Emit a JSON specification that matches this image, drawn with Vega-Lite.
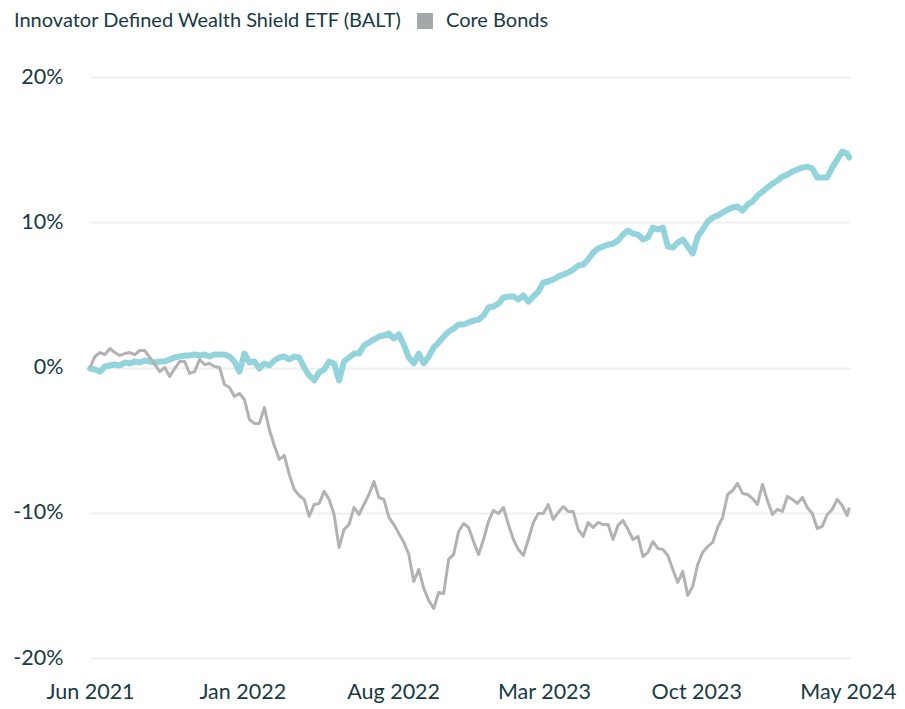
{
  "$schema": "https://vega.github.io/schema/vega-lite/v6.json",
  "width": 760,
  "height": 581,
  "autosize": {"type": "none"},
  "padding": {"left": 90, "top": 77, "right": 55, "bottom": 51},
  "background": "white",
  "config": {
    "view": {"stroke": null},
    "font": "Lato",
    "axis": {"labelFont": "Lato", "labelColor": "#173a44", "labelFontSize": 21.5, "domain": false, "ticks": false}
  },
  "data": {"values": [
    {"d":"2021-06-01","b":-0.07,"c":0},
    {"d":"2021-06-08","b":-0.14,"c":0.76},
    {"d":"2021-06-15","b":-0.28,"c":1.03},
    {"d":"2021-06-22","b":0.07,"c":0.89},
    {"d":"2021-06-29","b":0.14,"c":1.31},
    {"d":"2021-07-06","b":0.21,"c":1.03},
    {"d":"2021-07-13","b":0.14,"c":0.83},
    {"d":"2021-07-20","b":0.34,"c":0.96},
    {"d":"2021-07-27","b":0.28,"c":1.03},
    {"d":"2021-08-03","b":0.41,"c":0.89},
    {"d":"2021-08-10","b":0.34,"c":1.17},
    {"d":"2021-08-17","b":0.48,"c":1.17},
    {"d":"2021-08-24","b":0.41,"c":0.69},
    {"d":"2021-08-31","b":0.34,"c":0.21},
    {"d":"2021-09-07","b":0.41,"c":-0.28},
    {"d":"2021-09-14","b":0.41,"c":0},
    {"d":"2021-09-21","b":0.55,"c":-0.62},
    {"d":"2021-09-28","b":0.69,"c":-0.07},
    {"d":"2021-10-05","b":0.76,"c":0.41},
    {"d":"2021-10-12","b":0.83,"c":0.41},
    {"d":"2021-10-19","b":0.83,"c":-0.41},
    {"d":"2021-10-26","b":0.89,"c":-0.28},
    {"d":"2021-11-02","b":0.83,"c":0.55},
    {"d":"2021-11-09","b":0.89,"c":0.21},
    {"d":"2021-11-16","b":0.76,"c":0.28},
    {"d":"2021-11-23","b":0.89,"c":0.07},
    {"d":"2021-11-30","b":0.89,"c":0},
    {"d":"2021-12-07","b":0.89,"c":-1.17},
    {"d":"2021-12-14","b":0.76,"c":-1.38},
    {"d":"2021-12-21","b":0.41,"c":-2.0},
    {"d":"2021-12-28","b":-0.28,"c":-1.79},
    {"d":"2022-01-04","b":0.96,"c":-2.2},
    {"d":"2022-01-11","b":0.34,"c":-3.58},
    {"d":"2022-01-18","b":0.41,"c":-3.85},
    {"d":"2022-01-25","b":-0.07,"c":-3.85},
    {"d":"2022-02-01","b":0.28,"c":-2.75},
    {"d":"2022-02-08","b":0.14,"c":-4.27},
    {"d":"2022-02-15","b":0.48,"c":-5.37},
    {"d":"2022-02-22","b":0.69,"c":-6.33},
    {"d":"2022-03-01","b":0.76,"c":-6.06},
    {"d":"2022-03-08","b":0.55,"c":-7.36},
    {"d":"2022-03-15","b":0.76,"c":-8.4},
    {"d":"2022-03-22","b":0.69,"c":-8.81},
    {"d":"2022-03-29","b":0,"c":-9.08},
    {"d":"2022-04-05","b":-0.55,"c":-10.25},
    {"d":"2022-04-12","b":-0.89,"c":-9.43},
    {"d":"2022-04-19","b":-0.34,"c":-9.36},
    {"d":"2022-04-26","b":-0.14,"c":-8.53},
    {"d":"2022-05-03","b":0.41,"c":-9.08},
    {"d":"2022-05-10","b":0.28,"c":-10.12},
    {"d":"2022-05-17","b":-0.89,"c":-12.39},
    {"d":"2022-05-24","b":0.41,"c":-11.15},
    {"d":"2022-05-31","b":0.69,"c":-10.81},
    {"d":"2022-06-07","b":0.96,"c":-9.64},
    {"d":"2022-06-14","b":0.96,"c":-10.12},
    {"d":"2022-06-21","b":1.51,"c":-9.43},
    {"d":"2022-06-28","b":1.72,"c":-8.74},
    {"d":"2022-07-05","b":1.93,"c":-7.85},
    {"d":"2022-07-12","b":2.13,"c":-8.95},
    {"d":"2022-07-19","b":2.2,"c":-9.08},
    {"d":"2022-07-26","b":2.34,"c":-10.32},
    {"d":"2022-08-02","b":2.0,"c":-10.81},
    {"d":"2022-08-09","b":2.27,"c":-11.42},
    {"d":"2022-08-16","b":1.58,"c":-12.04},
    {"d":"2022-08-23","b":0.69,"c":-12.87},
    {"d":"2022-08-30","b":0.28,"c":-14.73},
    {"d":"2022-09-06","b":0.96,"c":-13.9},
    {"d":"2022-09-13","b":0.28,"c":-15.21},
    {"d":"2022-09-20","b":0.76,"c":-16.04},
    {"d":"2022-09-27","b":1.38,"c":-16.59},
    {"d":"2022-10-04","b":1.72,"c":-15.49},
    {"d":"2022-10-11","b":2.13,"c":-15.56},
    {"d":"2022-10-18","b":2.48,"c":-13.21},
    {"d":"2022-10-25","b":2.68,"c":-12.87},
    {"d":"2022-11-01","b":2.96,"c":-11.29},
    {"d":"2022-11-08","b":2.96,"c":-10.74},
    {"d":"2022-11-15","b":3.1,"c":-11.01},
    {"d":"2022-11-22","b":3.23,"c":-11.98},
    {"d":"2022-11-29","b":3.3,"c":-12.87},
    {"d":"2022-12-06","b":3.58,"c":-11.84},
    {"d":"2022-12-13","b":4.13,"c":-10.6},
    {"d":"2022-12-20","b":4.2,"c":-9.84},
    {"d":"2022-12-27","b":4.4,"c":-10.05},
    {"d":"2023-01-03","b":4.82,"c":-9.64},
    {"d":"2023-01-10","b":4.89,"c":-10.81},
    {"d":"2023-01-17","b":4.89,"c":-11.84},
    {"d":"2023-01-24","b":4.68,"c":-12.53},
    {"d":"2023-01-31","b":4.96,"c":-12.94},
    {"d":"2023-02-07","b":4.54,"c":-11.84},
    {"d":"2023-02-14","b":4.89,"c":-10.67},
    {"d":"2023-02-21","b":5.23,"c":-10.05},
    {"d":"2023-02-28","b":5.85,"c":-10.05},
    {"d":"2023-03-07","b":5.92,"c":-9.43},
    {"d":"2023-03-14","b":6.06,"c":-10.46},
    {"d":"2023-03-21","b":6.26,"c":-9.98},
    {"d":"2023-03-28","b":6.4,"c":-9.57},
    {"d":"2023-04-04","b":6.54,"c":-9.91},
    {"d":"2023-04-11","b":6.74,"c":-9.91},
    {"d":"2023-04-18","b":7.02,"c":-11.15},
    {"d":"2023-04-25","b":7.09,"c":-11.63},
    {"d":"2023-05-02","b":7.43,"c":-10.67},
    {"d":"2023-05-09","b":7.91,"c":-11.01},
    {"d":"2023-05-16","b":8.19,"c":-10.67},
    {"d":"2023-05-23","b":8.33,"c":-10.81},
    {"d":"2023-05-30","b":8.46,"c":-10.81},
    {"d":"2023-06-06","b":8.53,"c":-11.84},
    {"d":"2023-06-13","b":8.74,"c":-10.87},
    {"d":"2023-06-20","b":9.15,"c":-10.53},
    {"d":"2023-06-27","b":9.43,"c":-11.15},
    {"d":"2023-07-04","b":9.22,"c":-11.84},
    {"d":"2023-07-11","b":9.15,"c":-11.63},
    {"d":"2023-07-18","b":8.81,"c":-13.01},
    {"d":"2023-07-25","b":8.95,"c":-12.73},
    {"d":"2023-08-01","b":9.63,"c":-11.98},
    {"d":"2023-08-08","b":9.5,"c":-12.46},
    {"d":"2023-08-15","b":9.63,"c":-12.53},
    {"d":"2023-08-22","b":8.33,"c":-12.94},
    {"d":"2023-08-29","b":8.26,"c":-13.9},
    {"d":"2023-09-05","b":8.6,"c":-14.8},
    {"d":"2023-09-12","b":8.81,"c":-14.04},
    {"d":"2023-09-19","b":8.33,"c":-15.69},
    {"d":"2023-09-26","b":7.85,"c":-15.07},
    {"d":"2023-10-03","b":9.02,"c":-13.56},
    {"d":"2023-10-10","b":9.5,"c":-12.73},
    {"d":"2023-10-17","b":10.05,"c":-12.32},
    {"d":"2023-10-24","b":10.32,"c":-12.04},
    {"d":"2023-10-31","b":10.46,"c":-11.01},
    {"d":"2023-11-07","b":10.67,"c":-10.32},
    {"d":"2023-11-14","b":10.87,"c":-8.74},
    {"d":"2023-11-21","b":11.01,"c":-8.47},
    {"d":"2023-11-28","b":11.08,"c":-7.98},
    {"d":"2023-12-05","b":10.8,"c":-8.67},
    {"d":"2023-12-12","b":11.22,"c":-8.74},
    {"d":"2023-12-19","b":11.42,"c":-9.02},
    {"d":"2023-12-26","b":11.84,"c":-9.43},
    {"d":"2024-01-02","b":12.11,"c":-8.05},
    {"d":"2024-01-09","b":12.39,"c":-9.15},
    {"d":"2024-01-16","b":12.66,"c":-10.12},
    {"d":"2024-01-23","b":12.87,"c":-9.77},
    {"d":"2024-01-30","b":13.14,"c":-9.91},
    {"d":"2024-02-06","b":13.28,"c":-8.88},
    {"d":"2024-02-13","b":13.49,"c":-9.08},
    {"d":"2024-02-20","b":13.63,"c":-9.36},
    {"d":"2024-02-27","b":13.76,"c":-8.95},
    {"d":"2024-03-05","b":13.83,"c":-9.64},
    {"d":"2024-03-12","b":13.7,"c":-10.05},
    {"d":"2024-03-19","b":13.08,"c":-11.08},
    {"d":"2024-03-26","b":13.08,"c":-10.94},
    {"d":"2024-04-02","b":13.08,"c":-10.12},
    {"d":"2024-04-09","b":13.76,"c":-9.77},
    {"d":"2024-04-16","b":14.31,"c":-9.08},
    {"d":"2024-04-23","b":14.87,"c":-9.5},
    {"d":"2024-04-30","b":14.73,"c":-10.19},
    {"d":"2024-05-03","b":14.45,"c":-9.64}
  ]},
  "encoding": {
    "x": {
      "field": "d", "type": "temporal",
      "scale": {"type": "utc", "domain": ["2021-06-01", "2024-05-04"]},
      "axis": {
        "title": null, "grid": false, "format": "%b %Y",
        "values": [
          {"year": 2021, "month": 6, "date": 1, "utc": true},
          {"year": 2022, "month": 1, "date": 1, "utc": true},
          {"year": 2022, "month": 8, "date": 1, "utc": true},
          {"year": 2023, "month": 3, "date": 1, "utc": true},
          {"year": 2023, "month": 10, "date": 1, "utc": true},
          {"year": 2024, "month": 5, "date": 1, "utc": true}
        ],
        "labelBaseline": "top", "labelPadding": 23, "labelAlign": "center",
        "labelFlush": false, "labelOverlap": false, "labelBound": false
      }
    }
  },
  "layer": [
    {
      "mark": {"type": "line", "strokeWidth": 6, "strokeJoin": "round", "strokeCap": "round"},
      "encoding": {
        "y": {
          "field": "b", "type": "quantitative",
          "scale": {"domain": [-20, 20], "nice": false, "zero": false},
          "axis": {
            "title": null, "values": [-20, -10, 0, 10, 20],
            "labelExpr": "datum.value + '%'",
            "grid": true, "gridColor": "#efefef", "gridWidth": 2,
            "labelPadding": 27
          }
        },
        "color": {
          "datum": "Innovator Defined Wealth Shield ETF (BALT)",
          "type": "nominal",
          "scale": {
            "domain": ["Innovator Defined Wealth Shield ETF (BALT)", "Core Bonds"],
            "range": ["#93d3dc", "#b2b2b2"]
          },
          "legend": {
            "title": null, "orient": "none", "direction": "horizontal",
            "legendX": -107, "legendY": -66, "padding": 0,
            "symbolType": "square", "symbolSize": 256, "symbolStrokeWidth": 0,
            "labelFont": "Lato", "labelFontSize": 20, "labelColor": "#173a44",
            "labelOffset": 11, "columnPadding": 12, "labelLimit": 600,
            "encode": {
              "symbols": {
                "update": {
                  "fill": {"signal": "datum.value === 'Core Bonds' ? '#a3a9aa' : 'transparent'"},
                  "stroke": {"value": "transparent"},
                  "opacity": {"value": 1}
                }
              }
            }
          }
        }
      }
    },
    {
      "mark": {"type": "line", "strokeWidth": 3, "strokeJoin": "round"},
      "encoding": {
        "y": {"field": "c", "type": "quantitative"},
        "color": {"datum": "Core Bonds", "type": "nominal"}
      }
    }
  ]
}
